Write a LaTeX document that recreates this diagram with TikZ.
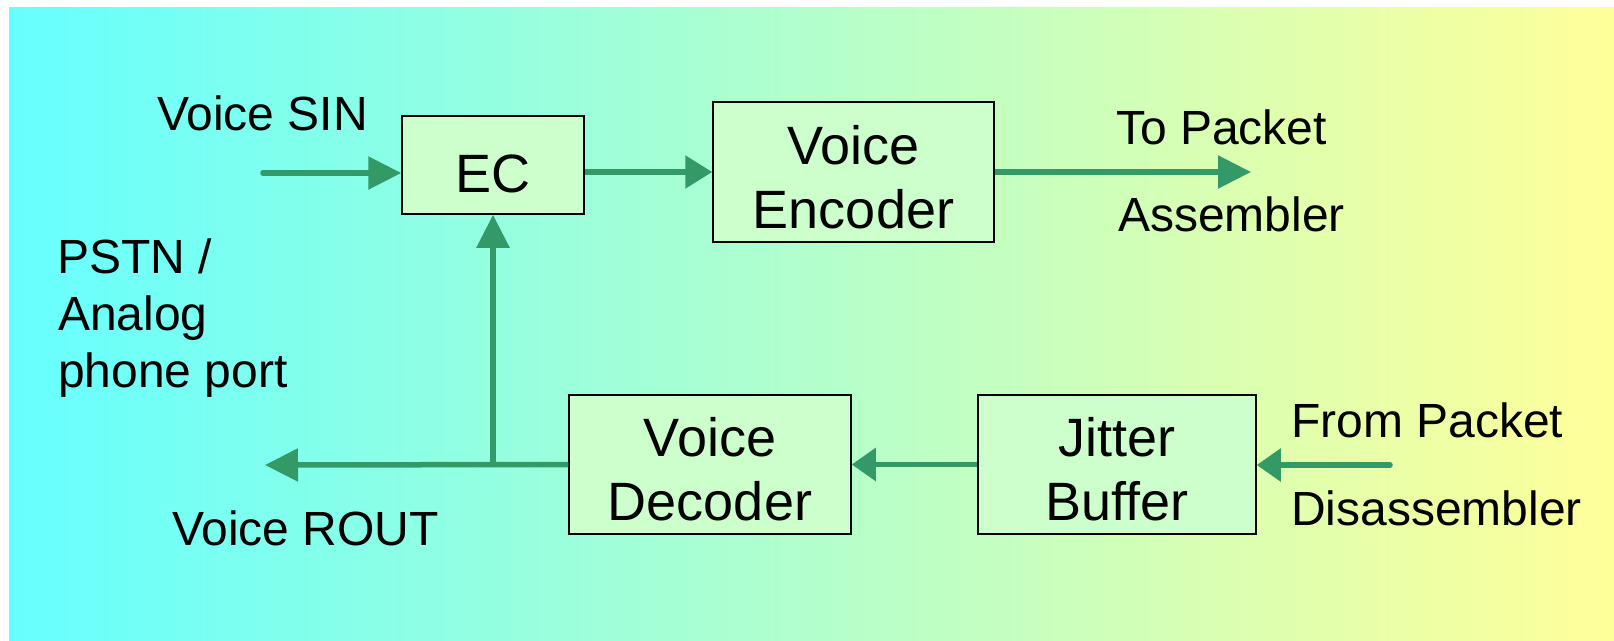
\documentclass[tikz,border=0pt]{standalone}
\usepackage{fontspec}
\setmainfont{Liberation Sans}
\usetikzlibrary{arrows.meta}
\definecolor{flow}{HTML}{339966}
\definecolor{boxfill}{HTML}{CCFFCC}
\definecolor{bgleft}{HTML}{66FFFF}
\definecolor{bgright}{HTML}{FFFF99}
\begin{document}
\begin{tikzpicture}[x=1pt,y=-1pt,
  block/.style={draw=black, line width=1.5pt, fill=boxfill, inner sep=0pt},
  lbl/.style={inner sep=0pt, anchor=base west, font=\fontsize{48}{57}\selectfont},
  btxt/.style={inner sep=0pt, anchor=base, font=\fontsize{54}{64}\selectfont},
  flowline/.style={draw=flow, line width=5.5pt},
  longtip/.style={-{Triangle[length=33pt,width=32pt]}},
  midtip/.style={-{Triangle[length=27pt,width=32pt]}},
  shorttip/.style={-{Triangle[length=24pt,width=32pt]}},
]
\useasboundingbox (0,0) rectangle (1614,640);
\fill[white] (0,0) rectangle (1614,640);
\shade[left color=bgleft, right color=bgright] (9,7) rectangle (1614,640);

% processing blocks
\node[block, minimum width=182pt, minimum height=98pt]  (ec)  at (493,165)   {};
\node[block, minimum width=281pt, minimum height=140pt] (enc) at (853.5,172) {};
\node[block, minimum width=282pt, minimum height=139pt] (dec) at (710,464.5) {};
\node[block, minimum width=278pt, minimum height=139pt] (jit) at (1117,464.5) {};

% block texts
\node[btxt] (ec-t)   at (493,192)   {EC};
\node[btxt] (enc-t1) at (853.5,164) {Voice};
\node[btxt] (enc-t2) at (853.5,228) {Encoder};
\node[btxt] (dec-t1) at (710,456)   {Voice};
\node[btxt] (dec-t2) at (710,520)   {Decoder};
\node[btxt] (jit-t1) at (1117,456)  {Jitter};
\node[btxt] (jit-t2) at (1117,520)  {Buffer};

% outside labels
\node[lbl] (sin-l)   at (157,130)  {Voice SIN};
\node[lbl] (tp-l1)   at (1116,144) {To Packet};
\node[lbl] (tp-l2)   at (1118,231) {Assembler};
\node[lbl] (pstn-l1) at (57,273)   {PSTN /};
\node[lbl] (pstn-l2) at (58,330)   {Analog};
\node[lbl] (pstn-l3) at (58,387)   {phone port};
\node[lbl] (rout-l)  at (172,545)  {Voice ROUT};
\node[lbl] (fp-l1)   at (1291,437) {From Packet};
\node[lbl] (fp-l2)   at (1291,525) {Disassembler};

% free ends of connectors
\coordinate (sin)    at (263,173);
\coordinate (topkt)  at (1251,172);
\coordinate (frompkt) at (1390,465);
\coordinate (rout)   at (265,465);
\coordinate (tap)    at (ec.south |- rout);

% signal flow
\draw[flowline, longtip, line cap=round] (sin) -- (sin -| ec.west);
\draw[flowline, midtip] (enc.west -| ec.east) -- (enc.west);
\draw[flowline, longtip] (enc.east) -- (topkt);
\draw[flowline, shorttip, line cap=round] (frompkt) -- (frompkt -| jit.east);
\draw[flowline, shorttip] (jit.west) -- (dec.east);
\draw[flowline, longtip] (dec.west) -- (rout);
\draw[flowline, longtip] (tap) -- (ec.south);
\end{tikzpicture}
\end{document}
